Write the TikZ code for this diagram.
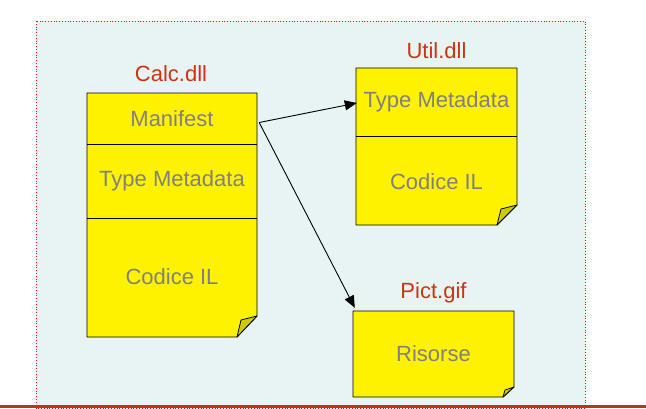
\documentclass[tikz,border=0pt]{standalone}
\usepackage{fontspec}
\setmainfont{Liberation Sans}
\usepackage{tikz}
\usetikzlibrary{arrows.meta,positioning}
\definecolor{panelbg}{HTML}{E8F4F4}
\definecolor{titlered}{HTML}{CC3311}
\definecolor{labelgray}{HTML}{808080}
\definecolor{foldyel}{HTML}{CCCC00}
\definecolor{barred}{HTML}{C0302A}
\tikzset{
  sect/.style={inner sep=0pt, text=labelgray, font=\fontsize{22}{26}\selectfont},
  title/.style={inner sep=0pt, text=titlered, font=\fontsize{22}{26}\selectfont},
  paper/.style={draw=black, fill=yellow, line width=0.9pt, line join=round},
  flap/.style={draw=black, fill=foldyel, line width=0.8pt, line join=round},
  arr/.style={-{Triangle[length=12pt,width=10pt]}, line width=0.9pt}
}
\begin{document}
\begin{tikzpicture}[x=1pt,y=-1pt]
    \useasboundingbox (0,0) rectangle (646,408);
    % panel
    \draw[red, dotted, line width=0.8pt, fill=panelbg] (36,21) rectangle (585,408);
    \fill[barred] (0,405) rectangle (646,408);

    % Calc.dll
    \draw[paper] (87,93) -- (257,93) -- (257,316) -- (237,337) -- (87,337) -- cycle;
    \draw[flap] (237,337) .. controls (239,328) .. (241,320) -- (257,316) -- cycle;
    \node[sect, minimum width=170pt, minimum height=51pt] (manifest) at (172,118.5) {Manifest};
    \node[sect, minimum width=170pt, minimum height=74pt] (calcmeta) at (172,181) {Type Metadata};
    \node[sect] (calccode) at (172,277) {Codice IL};
    \draw[line width=0.9pt] (manifest.south west) -- (manifest.south east);
    \draw[line width=0.9pt] (calcmeta.south west) -- (calcmeta.south east);
    \node[title] (calctitle) at (171,74) {Calc.dll};

    % Util.dll
    \draw[paper] (356,68) -- (517,68) -- (517,205) -- (497,225) -- (356,225) -- cycle;
    \draw[flap] (497,225) .. controls (499,217) .. (501,209) -- (517,205) -- cycle;
    \node[sect, minimum width=161pt, minimum height=68pt] (umeta) at (436.5,102) {Type Metadata};
    \node[sect] (ucode) at (436.5,182) {Codice IL};
    \draw[line width=0.9pt] (umeta.south west) -- (umeta.south east);
    \node[title] (utiltitle) at (436.5,51) {Util.dll};

    % Pict.gif
    \draw[paper] (353,311) -- (514,311) -- (514,387) -- (503,397) -- (353,397) -- cycle;
    \draw[flap] (503,397) .. controls (504,393) .. (505,390) -- (514,387) -- cycle;
    \node[sect, minimum width=161pt, minimum height=86pt] (risorse) at (433.5,354) {Risorse};
    \node[title] (picttitle) at (433.5,293) {Pict.gif};

    % references
    \draw[arr] ([shift={(2,4)}]manifest.east) -- ([shift={(1,1)}]umeta.west);
    \draw[arr] ([shift={(2,4)}]manifest.east) -- ([shift={(2,-3)}]risorse.north west);
\end{tikzpicture}
\end{document}
